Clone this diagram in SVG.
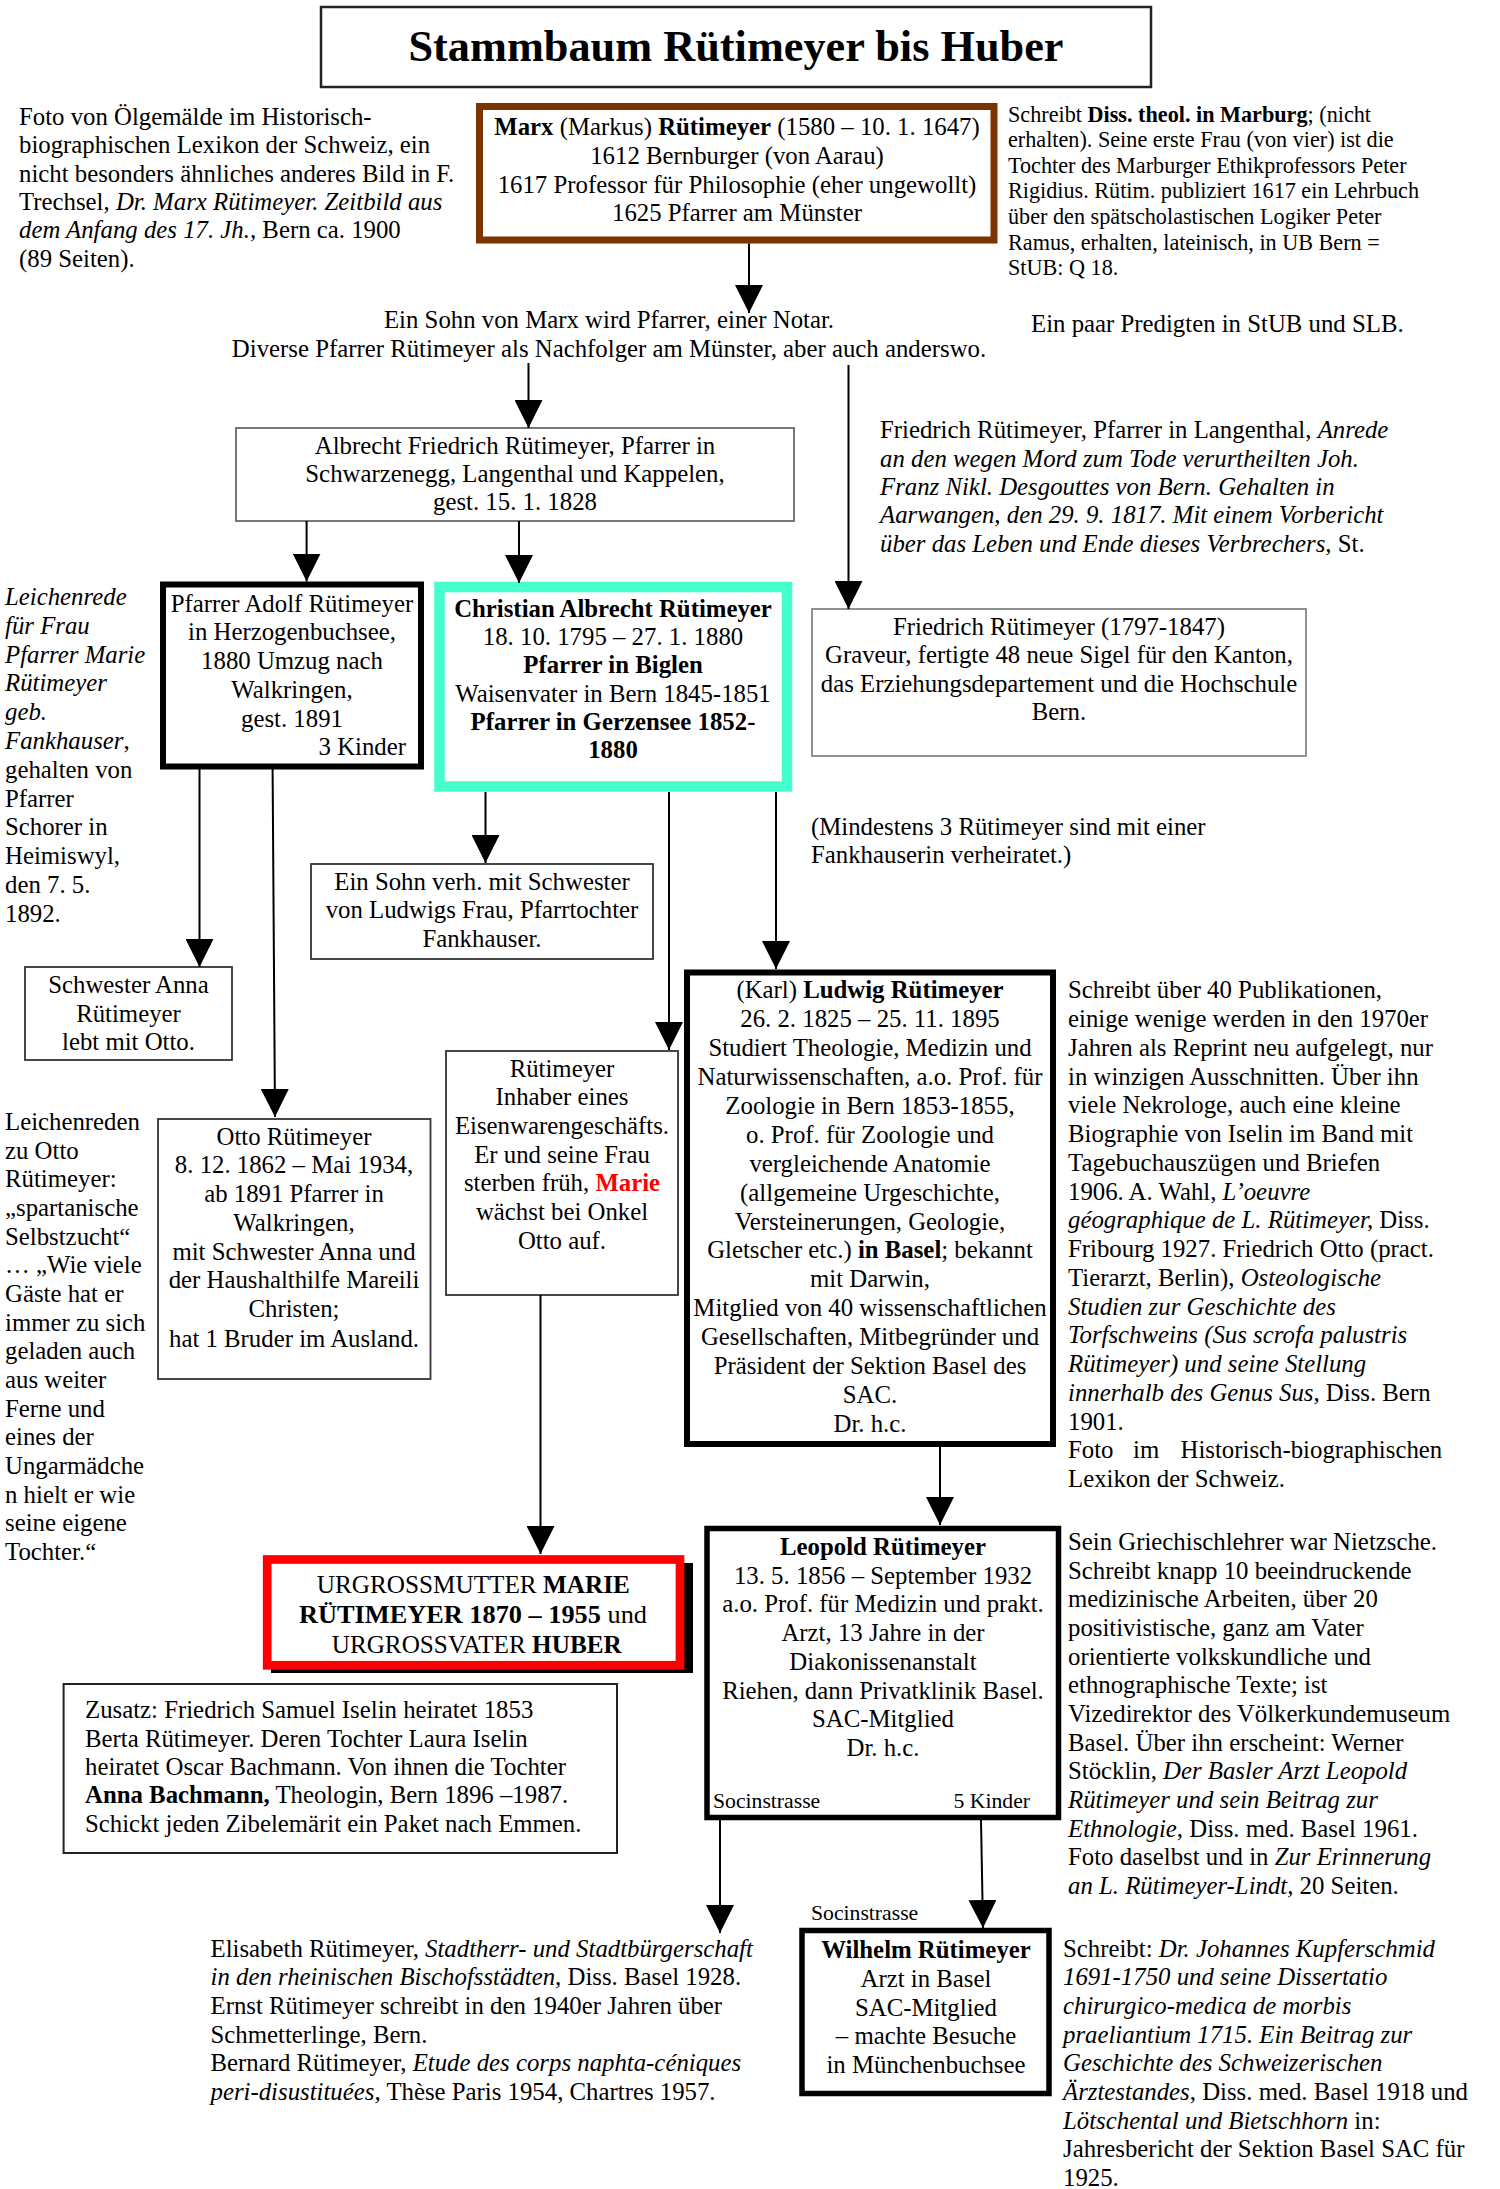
<svg xmlns="http://www.w3.org/2000/svg" width="1500" height="2189" viewBox="0 0 1500 2189">
<style>
text{font-family:"Liberation Serif","Times New Roman",serif;font-size:24.8px;fill:#000}
.s{font-size:22.2px}
.xs{font-size:21.7px}
.c{text-anchor:middle}
.r{text-anchor:end}
.b{font-weight:bold}
.i{font-style:italic}
.box{fill:#fff;stroke:#333;stroke-width:1.8}
.gray{fill:#fff;stroke:#666;stroke-width:1.6}
.thick{fill:#fff;stroke:#000;stroke-width:6}
.conn line{stroke:#000;stroke-width:2;marker-end:url(#ah)}
.caps{font-size:26px}
</style>
<defs>
<marker id="ah" markerUnits="userSpaceOnUse" markerWidth="28" markerHeight="28" refX="28" refY="14" orient="auto" viewBox="0 0 28 28"><path d="M0,0 L28,14 L0,28 z" fill="#000"/></marker>
</defs>
<rect width="1500" height="2189" fill="#fff"/>

<g id="title">
<rect x="321" y="7" width="830" height="80" fill="#fff" stroke="#222" stroke-width="2.5"/>
<text x="736" y="61" class="c b" style="font-size:44.3px">Stammbaum Rütimeyer bis Huber</text>
</g>

<g id="note-foto">
<text x="19"><tspan x="19" y="125">Foto von Ölgemälde im Historisch-</tspan><tspan x="19" y="153.3">biographischen Lexikon der Schweiz, ein</tspan><tspan x="19" y="181.7">nicht besonders ähnliches anderes Bild in F.</tspan><tspan x="19" y="210">Trechsel, <tspan class="i">Dr. Marx Rütimeyer. Zeitbild aus</tspan></tspan><tspan x="19" y="238.3" class="i">dem Anfang des 17. Jh.,<tspan style="font-style:normal"> Bern ca. 1900</tspan></tspan><tspan x="19" y="266.7">(89 Seiten).</tspan></text>
</g>

<g id="marx">
<rect x="479.5" y="106.5" width="514.5" height="133.5" fill="#fff" stroke="#7B3300" stroke-width="7"/>
<text class="c"><tspan x="737" y="135"><tspan class="b">Marx</tspan> (Markus) <tspan class="b">Rütimeyer</tspan> (1580 – 10. 1. 1647)</tspan><tspan x="737" y="164">1612 Bernburger (von Aarau)</tspan><tspan x="737" y="192.7">1617 Professor für Philosophie (eher ungewollt)</tspan><tspan x="737" y="221">1625 Pfarrer am Münster</tspan></text>
</g>

<g id="note-marburg">
<text class="s"><tspan x="1008" y="121.7">Schreibt <tspan class="b">Diss. theol. in Marburg</tspan>; (nicht</tspan><tspan x="1008" y="147.3">erhalten). Seine erste Frau (von vier) ist die</tspan><tspan x="1008" y="172.8">Tochter des Marburger Ethikprofessors Peter</tspan><tspan x="1008" y="198.4">Rigidius. Rütim. publiziert 1617 ein Lehrbuch</tspan><tspan x="1008" y="223.9">über den spätscholastischen Logiker Peter</tspan><tspan x="1008" y="249.5">Ramus, erhalten, lateinisch, in UB Bern =</tspan><tspan x="1008" y="275">StUB: Q 18.</tspan></text>
</g>

<g id="sohn-marx">
<text class="c"><tspan x="609" y="328.3">Ein Sohn von Marx wird Pfarrer, einer Notar.</tspan><tspan x="609" y="356.7">Diverse Pfarrer Rütimeyer als Nachfolger am Münster, aber auch anderswo.</tspan></text>
</g>

<g id="note-predigten">
<text x="1031" y="331.7">Ein paar Predigten in StUB und SLB.</text>
</g>

<g id="albrecht-friedrich">
<rect x="236" y="428" width="558" height="93" class="gray" style="stroke:#555"/>
<text class="c"><tspan x="515" y="453.5">Albrecht Friedrich Rütimeyer, Pfarrer in</tspan><tspan x="515" y="482">Schwarzenegg, Langenthal und Kappelen,</tspan><tspan x="515" y="510.3">gest. 15. 1. 1828</tspan></text>
</g>

<g id="note-friedrich-pfarrer">
<text><tspan x="880" y="438.4">Friedrich Rütimeyer, Pfarrer in Langenthal, <tspan class="i">Anrede</tspan></tspan><tspan x="880" y="466.7" class="i">an den wegen Mord zum Tode verurtheilten Joh.</tspan><tspan x="880" y="495" class="i">Franz Nikl. Desgouttes von Bern. Gehalten in</tspan><tspan x="880" y="523.3" class="i">Aarwangen, den 29. 9. 1817. Mit einem Vorbericht</tspan><tspan x="880" y="551.7"><tspan class="i">über das Leben und Ende dieses Verbrechers,</tspan> St.</tspan></text>
</g>

<g id="note-leichenrede-marie">
<text><tspan x="5" y="605" class="i">Leichenrede</tspan><tspan x="5" y="633.8" class="i">für Frau</tspan><tspan x="5" y="662.6" class="i">Pfarrer Marie</tspan><tspan x="5" y="691.4" class="i">Rütimeyer</tspan><tspan x="5" y="720.2" class="i">geb.</tspan><tspan x="5" y="749"><tspan class="i">Fankhauser</tspan>,</tspan><tspan x="5" y="777.8">gehalten von</tspan><tspan x="5" y="806.6">Pfarrer</tspan><tspan x="5" y="835.4">Schorer in</tspan><tspan x="5" y="864.2">Heimiswyl,</tspan><tspan x="5" y="893">den 7. 5.</tspan><tspan x="5" y="921.8">1892.</tspan></text>
</g>

<g id="adolf">
<rect x="163" y="584.5" width="258" height="182" class="thick"/>
<text class="c"><tspan x="292" y="611.7">Pfarrer Adolf Rütimeyer</tspan><tspan x="292" y="640">in Herzogenbuchsee,</tspan><tspan x="292" y="669.3">1880 Umzug nach</tspan><tspan x="292" y="698.3">Walkringen,</tspan><tspan x="292" y="726.7">gest. 1891</tspan></text>
<text x="406" y="755" class="r">3 Kinder</text>
</g>

<g id="christian">
<rect x="439.5" y="587" width="347.5" height="199.5" fill="#fff" stroke="#44FFCC" stroke-width="10.5"/>
<text class="c"><tspan x="613" y="616.7" class="b">Christian Albrecht Rütimeyer</tspan><tspan x="613" y="645">18. 10. 1795 – 27. 1. 1880</tspan><tspan x="613" y="673.3" class="b">Pfarrer in Biglen</tspan><tspan x="613" y="701.7">Waisenvater in Bern 1845-1851</tspan><tspan x="613" y="730" class="b">Pfarrer in Gerzensee 1852-</tspan><tspan x="613" y="758.3" class="b">1880</tspan></text>
</g>

<g id="friedrich">
<rect x="812" y="609" width="494" height="147" class="gray" style="stroke:#777"/>
<text class="c"><tspan x="1059" y="635">Friedrich Rütimeyer (1797-1847)</tspan><tspan x="1059" y="663.3">Graveur, fertigte 48 neue Sigel für den Kanton,</tspan><tspan x="1059" y="691.7">das Erziehungsdepartement und die Hochschule</tspan><tspan x="1059" y="720">Bern.</tspan></text>
</g>

<g id="sohn-verh">
<rect x="311" y="864" width="342" height="95" class="box"/>
<text class="c"><tspan x="482" y="889.5">Ein Sohn verh. mit Schwester</tspan><tspan x="482" y="918.3">von Ludwigs Frau, Pfarrtochter</tspan><tspan x="482" y="946.7">Fankhauser.</tspan></text>
</g>

<g id="note-mindestens">
<text><tspan x="811" y="835">(Mindestens 3 Rütimeyer sind mit einer</tspan><tspan x="811" y="863.3">Fankhauserin verheiratet.)</tspan></text>
</g>

<g id="anna">
<rect x="25" y="967" width="207" height="93" class="box"/>
<text class="c"><tspan x="128.5" y="993.3">Schwester Anna</tspan><tspan x="128.5" y="1021.7">Rütimeyer</tspan><tspan x="128.5" y="1050">lebt mit Otto.</tspan></text>
</g>

<g id="otto">
<rect x="158" y="1119" width="272.5" height="260" class="box"/>
<text class="c"><tspan x="294" y="1145">Otto Rütimeyer</tspan><tspan x="294" y="1173.3">8. 12. 1862 – Mai 1934,</tspan><tspan x="294" y="1201.7">ab 1891 Pfarrer in</tspan><tspan x="294" y="1230.7">Walkringen,</tspan><tspan x="294" y="1260">mit Schwester Anna und</tspan><tspan x="294" y="1288.3">der Haushalthilfe Mareili</tspan><tspan x="294" y="1316.7">Christen;</tspan><tspan x="294" y="1346.7">hat 1 Bruder im Ausland.</tspan></text>
</g>

<g id="note-leichenreden-otto">
<text><tspan x="5" y="1130">Leichenreden</tspan><tspan x="5" y="1158.7">zu Otto</tspan><tspan x="5" y="1187.3">Rütimeyer:</tspan><tspan x="5" y="1216">„spartanische</tspan><tspan x="5" y="1244.7">Selbstzucht“</tspan><tspan x="5" y="1273.3">… „Wie viele</tspan><tspan x="5" y="1302">Gäste hat er</tspan><tspan x="5" y="1330.7">immer zu sich</tspan><tspan x="5" y="1359.3">geladen auch</tspan><tspan x="5" y="1388">aus weiter</tspan><tspan x="5" y="1416.7">Ferne und</tspan><tspan x="5" y="1445.3">eines der</tspan><tspan x="5" y="1474">Ungarmädche</tspan><tspan x="5" y="1502.7">n hielt er wie</tspan><tspan x="5" y="1531.3">seine eigene</tspan><tspan x="5" y="1560">Tochter.“</tspan></text>
</g>

<g id="ruetimeyer-eisenwaren">
<rect x="446" y="1051" width="232" height="244" class="box"/>
<text class="c"><tspan x="562" y="1076.7">Rütimeyer</tspan><tspan x="562" y="1105.3">Inhaber eines</tspan><tspan x="562" y="1134">Eisenwarengeschäfts.</tspan><tspan x="562" y="1162.6">Er und seine Frau</tspan><tspan x="562" y="1191.3">sterben früh, <tspan class="b" fill="#FF0000">Marie</tspan></tspan><tspan x="562" y="1219.9">wächst bei Onkel</tspan><tspan x="562" y="1248.5">Otto auf.</tspan></text>
</g>

<g id="ludwig">
<rect x="687" y="972.5" width="366" height="471.5" class="thick"/>
<text class="c"><tspan x="870" y="998.3">(Karl) <tspan class="b">Ludwig Rütimeyer</tspan></tspan><tspan x="870" y="1027.2">26. 2. 1825 – 25. 11. 1895</tspan><tspan x="870" y="1056.1">Studiert Theologie, Medizin und</tspan><tspan x="870" y="1085">Naturwissenschaften, a.o. Prof. für</tspan><tspan x="870" y="1113.9">Zoologie in Bern 1853-1855,</tspan><tspan x="870" y="1142.8">o. Prof. für Zoologie und</tspan><tspan x="870" y="1171.7">vergleichende Anatomie</tspan><tspan x="870" y="1200.6">(allgemeine Urgeschichte,</tspan><tspan x="870" y="1229.5">Versteinerungen, Geologie,</tspan><tspan x="870" y="1258.4">Gletscher etc.) <tspan class="b">in Basel</tspan>; bekannt</tspan><tspan x="870" y="1287.3">mit Darwin,</tspan><tspan x="870" y="1316.2">Mitglied von 40 wissenschaftlichen</tspan><tspan x="870" y="1345.1">Gesellschaften, Mitbegründer und</tspan><tspan x="870" y="1374">Präsident der Sektion Basel des</tspan><tspan x="870" y="1402.9">SAC.</tspan><tspan x="870" y="1431.8">Dr. h.c.</tspan></text>
</g>

<g id="note-ludwig">
<text><tspan x="1068" y="998.3">Schreibt über 40 Publikationen,</tspan><tspan x="1068" y="1027">einige wenige werden in den 1970er</tspan><tspan x="1068" y="1055.8">Jahren als Reprint neu aufgelegt, nur</tspan><tspan x="1068" y="1084.5">in winzigen Ausschnitten. Über ihn</tspan><tspan x="1068" y="1113.3">viele Nekrologe, auch eine kleine</tspan><tspan x="1068" y="1142">Biographie von Iselin im Band mit</tspan><tspan x="1068" y="1170.8">Tagebuchauszügen und Briefen</tspan><tspan x="1068" y="1199.5">1906. A. Wahl, <tspan class="i">L’oeuvre</tspan></tspan><tspan x="1068" y="1228.3"><tspan class="i">géographique de L. Rütimeyer,</tspan> Diss.</tspan><tspan x="1068" y="1257">Fribourg 1927. Friedrich Otto (pract.</tspan><tspan x="1068" y="1285.8">Tierarzt, Berlin), <tspan class="i">Osteologische</tspan></tspan><tspan x="1068" y="1314.5" class="i">Studien zur Geschichte des</tspan><tspan x="1068" y="1343.3" class="i">Torfschweins (Sus scrofa palustris</tspan><tspan x="1068" y="1372" class="i">Rütimeyer) und seine Stellung</tspan><tspan x="1068" y="1400.8"><tspan class="i">innerhalb des Genus Sus,</tspan> Diss. Bern</tspan><tspan x="1068" y="1429.5">1901.</tspan><tspan x="1068" y="1458.3">Foto</tspan><tspan x="1133" y="1458.3">im</tspan><tspan x="1180.5" y="1458.3">Historisch-biographischen</tspan><tspan x="1068" y="1487">Lexikon der Schweiz.</tspan></text>
</g>

<g id="urgrosseltern">
<rect x="271" y="1563" width="422" height="110" fill="#000"/>
<rect x="267.2" y="1559.5" width="412.8" height="105.8" fill="#fff" stroke="#FF0000" stroke-width="8.7"/>
<text x="473.3" y="1593" class="c caps" textLength="313" lengthAdjust="spacingAndGlyphs">URGROSSMUTTER <tspan class="b">MARIE</tspan></text>
<text x="473" y="1623" class="c caps" textLength="348" lengthAdjust="spacingAndGlyphs"><tspan class="b">RÜTIMEYER 1870 – 1955</tspan> und</text>
<text x="476.7" y="1652.7" class="c caps" textLength="290" lengthAdjust="spacingAndGlyphs">URGROSSVATER <tspan class="b">HUBER</tspan></text>
</g>

<g id="zusatz">
<rect x="63.6" y="1684" width="553.4" height="169" class="box" style="stroke:#222;stroke-width:2"/>
<text><tspan x="85" y="1718.3">Zusatz: Friedrich Samuel Iselin heiratet 1853</tspan><tspan x="85" y="1746.7">Berta Rütimeyer. Deren Tochter Laura Iselin</tspan><tspan x="85" y="1775">heiratet Oscar Bachmann. Von ihnen die Tochter</tspan><tspan x="85" y="1803.3"><tspan class="b">Anna Bachmann,</tspan> Theologin, Bern 1896 –1987.</tspan><tspan x="85" y="1831.7">Schickt jeden Zibelemärit ein Paket nach Emmen.</tspan></text>
</g>

<g id="leopold">
<rect x="707" y="1528.5" width="351.5" height="289" class="thick" style="stroke-width:5.5"/>
<text class="c"><tspan x="883" y="1555" class="b">Leopold Rütimeyer</tspan><tspan x="883" y="1583.7">13. 5. 1856 – September 1932</tspan><tspan x="883" y="1612.4">a.o. Prof. für Medizin und prakt.</tspan><tspan x="883" y="1641.1">Arzt, 13 Jahre in der</tspan><tspan x="883" y="1669.8">Diakonissenanstalt</tspan><tspan x="883" y="1698.5">Riehen, dann Privatklinik Basel.</tspan><tspan x="883" y="1727.2">SAC-Mitglied</tspan><tspan x="883" y="1755.9">Dr. h.c.</tspan></text>
<text x="713" y="1808" class="xs">Socinstrasse</text>
<text x="1030" y="1808" class="xs r">5 Kinder</text>
</g>

<g id="note-leopold">
<text><tspan x="1068" y="1550">Sein Griechischlehrer war Nietzsche.</tspan><tspan x="1068" y="1578.7">Schreibt knapp 10 beeindruckende</tspan><tspan x="1068" y="1607.3">medizinische Arbeiten, über 20</tspan><tspan x="1068" y="1636">positivistische, ganz am Vater</tspan><tspan x="1068" y="1664.7">orientierte volkskundliche und</tspan><tspan x="1068" y="1693.3">ethnographische Texte; ist</tspan><tspan x="1068" y="1722">Vizedirektor des Völkerkundemuseum</tspan><tspan x="1068" y="1750.7">Basel. Über ihn erscheint: Werner</tspan><tspan x="1068" y="1779.3">Stöcklin, <tspan class="i">Der Basler Arzt Leopold</tspan></tspan><tspan x="1068" y="1808" class="i">Rütimeyer und sein Beitrag zur</tspan><tspan x="1068" y="1836.7"><tspan class="i">Ethnologie</tspan>, Diss. med. Basel 1961.</tspan><tspan x="1068" y="1865.3">Foto daselbst und in <tspan class="i">Zur Erinnerung</tspan></tspan><tspan x="1068" y="1894"><tspan class="i">an L. Rütimeyer-Lindt,</tspan> 20 Seiten.</tspan></text>
</g>

<g id="socinstrasse-label">
<text x="811" y="1920" class="xs">Socinstrasse</text>
</g>

<g id="wilhelm">
<rect x="802" y="1930.5" width="247" height="163" class="thick" style="stroke-width:5.5"/>
<text class="c"><tspan x="926" y="1958.3" class="b">Wilhelm Rütimeyer</tspan><tspan x="926" y="1987">Arzt in Basel</tspan><tspan x="926" y="2015.5">SAC-Mitglied</tspan><tspan x="926" y="2044">– machte Besuche</tspan><tspan x="926" y="2072.5">in Münchenbuchsee</tspan></text>
</g>

<g id="note-nachkommen">
<text><tspan x="210.5" y="1956.7">Elisabeth Rütimeyer, <tspan class="i">Stadtherr- und Stadtbürgerschaft</tspan></tspan><tspan x="210.5" y="1985.3"><tspan class="i">in den rheinischen Bischofsstädten,</tspan> Diss. Basel 1928.</tspan><tspan x="210.5" y="2014">Ernst Rütimeyer schreibt in den 1940er Jahren über</tspan><tspan x="210.5" y="2042.6">Schmetterlinge, Bern.</tspan><tspan x="210.5" y="2071.3">Bernard Rütimeyer, <tspan class="i">Etude des corps naphta-céniques</tspan></tspan><tspan x="210.5" y="2100"><tspan class="i">peri-disustituées,</tspan> Thèse Paris 1954, Chartres 1957.</tspan></text>
</g>

<g id="note-wilhelm">
<text><tspan x="1063" y="1956.7">Schreibt: <tspan class="i">Dr. Johannes Kupferschmid</tspan></tspan><tspan x="1063" y="1985.3" class="i">1691-1750 und seine Dissertatio</tspan><tspan x="1063" y="2014" class="i">chirurgico-medica de morbis</tspan><tspan x="1063" y="2042.6" class="i">praeliantium 1715. Ein Beitrag zur</tspan><tspan x="1063" y="2071.3" class="i">Geschichte des Schweizerischen</tspan><tspan x="1063" y="2100"><tspan class="i">Ärztestandes</tspan>, Diss. med. Basel 1918 und</tspan><tspan x="1063" y="2128.6"><tspan class="i">Lötschental und Bietschhorn</tspan> in:</tspan><tspan x="1063" y="2157.3">Jahresbericht der Sektion Basel SAC für</tspan><tspan x="1063" y="2185.9">1925.</tspan></text>
</g>

<g id="connectors" class="conn">
<line x1="749" y1="243.5" x2="749" y2="313"/>
<line x1="528.5" y1="363" x2="528.5" y2="428"/>
<line x1="848.5" y1="365" x2="848.5" y2="609"/>
<line x1="306.6" y1="521" x2="306.6" y2="581.5"/>
<line x1="519" y1="521" x2="519" y2="583"/>
<line x1="199.5" y1="767" x2="199.5" y2="967"/>
<line x1="272.6" y1="769" x2="275" y2="1117"/>
<line x1="485.5" y1="792" x2="485.5" y2="863"/>
<line x1="669" y1="792" x2="669" y2="1050"/>
<line x1="776" y1="792" x2="776" y2="969"/>
<line x1="540.5" y1="1295" x2="540.5" y2="1554"/>
<line x1="940" y1="1447" x2="940" y2="1525"/>
<line x1="720" y1="1820" x2="720" y2="1933"/>
<line x1="981" y1="1820" x2="983" y2="1928"/>
</g>
</svg>
